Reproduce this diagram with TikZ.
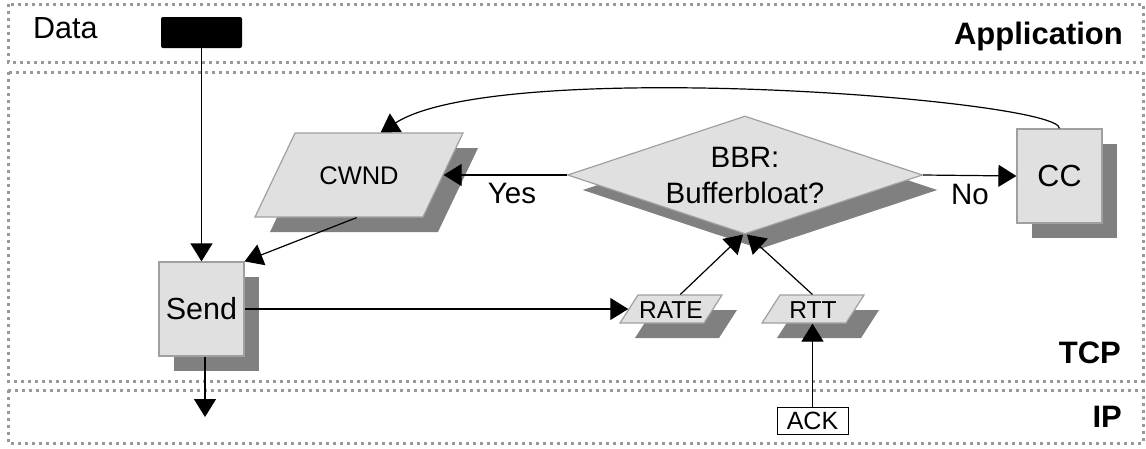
\documentclass[tikz,border=0pt]{standalone}
\usepackage{fontspec}
\setmainfont{Liberation Sans}
\usetikzlibrary{shapes.geometric,shadows,arrows.meta}
\definecolor{shapefill}{HTML}{E0E0E0}
\definecolor{shapeborder}{HTML}{A0A0A0}
\definecolor{shadowgray}{HTML}{808080}
\definecolor{layergray}{HTML}{999999}
\begin{document}
\begin{tikzpicture}[x=1pt,y=-1pt,
  layer/.style={draw=layergray,line width=3pt,dash pattern=on 3pt off 4pt},
  layerlabel/.style={font=\fontsize{31}{36}\selectfont\bfseries,inner sep=0pt},
  shd/.style={drop shadow={shadow xshift=15pt,shadow yshift=-15pt,fill=shadowgray,opacity=1}},
  procbox/.style={shd,draw=shapeborder,fill=shapefill,line width=1.2pt,minimum width=85pt,minimum height=94pt,inner sep=0pt,font=\fontsize{30.5}{34}\selectfont},
  databox/.style={shd,draw=shapeborder,fill=shapefill,line width=1.2pt,shape=trapezium,trapezium stretches body,inner sep=0pt},
  conn/.style={line width=1.2pt,-{Triangle[length=18pt,width=22pt]}},
  lbl/.style={font=\fontsize{29.5}{34}\selectfont,inner sep=0pt}
]
\useasboundingbox (0,0) rectangle (1146,448);
\draw[layer] (8,4) rectangle (1143,62);
\draw[layer] (8,72) rectangle (1143,381);
\draw[layer] (8,390) rectangle (1143,443);
\node[layerlabel,anchor=base east] (app) at (1123,44) {Application};
\node[layerlabel,anchor=base east] (tcp) at (1121,363) {TCP};
\node[layerlabel,anchor=base east] (ip) at (1122,427) {IP};
\node[inner sep=0pt,font=\fontsize{30.5}{34}\selectfont,anchor=base west] (data) at (33,38) {Data};
\node[fill=black,rounded corners=2pt,minimum width=81pt,minimum height=31pt,inner sep=0pt] (blk) at (201.5,32.5) {};

\node[procbox] (send) at (201.5,309) {Send};
\node[procbox] (cc) at (1059.5,176) {CC};
\node[databox,trapezium left angle=64.5,trapezium right angle=115.5,text height=51pt,text depth=33pt,minimum width=208pt,font=\fontsize{25.5}{28}\selectfont] (cwnd) at (359,175) {CWND};
\node[shd,shape=diamond,draw=shapeborder,fill=shapefill,line width=1.2pt,minimum width=355pt,minimum height=118pt,aspect=3,inner sep=0pt,align=center,font=\fontsize{29.5}{36}\selectfont] (bbr) at (745,175) {BBR:\\Bufferbloat?};
\node[databox,trapezium left angle=57.3,trapezium right angle=122.7,text height=23pt,text depth=5pt,minimum width=102pt,font=\fontsize{24.5}{28}\selectfont] (rate) at (671,309) {RATE};
\node[databox,trapezium left angle=57.3,trapezium right angle=122.7,text height=23pt,text depth=5pt,minimum width=102pt,font=\fontsize{24.5}{28}\selectfont] (rtt) at (813,309) {RTT};
\node[draw=black,fill=white,line width=1pt,minimum width=71pt,minimum height=27pt,inner sep=0pt,font=\fontsize{25}{28}\selectfont] (ack) at (812.5,420.5) {ACK};
\coordinate (ipout) at (205,417);

\draw[conn] (blk.south) -- (send.north);
\draw[conn] ([xshift=18pt]cwnd.bottom side) -- (send.north east);
\draw[conn] (bbr.west) -- (cwnd.right side);
\draw[conn] (bbr.east) -- (cc.west);
\draw[conn] (cc.north) .. controls +(0,-29) and +(119,-76) .. ([xshift=86pt]cwnd.top left corner);
\draw[conn] (send.east) -- (rate.left side);
\draw[conn] (rate.top side) -- ([xshift=-2pt]bbr.south);
\draw[conn] ([xshift=-10pt]rtt.top side) -- ([xshift=2pt]bbr.south);
\draw[conn] (ack.north) -- (ack.north |- rtt.bottom side);
\draw[conn] (send.south -| ipout) -- (ipout);
\node[lbl] (yes) at (512,193) {Yes};
\node[lbl] (no) at (970,194) {No};
\end{tikzpicture}
\end{document}
